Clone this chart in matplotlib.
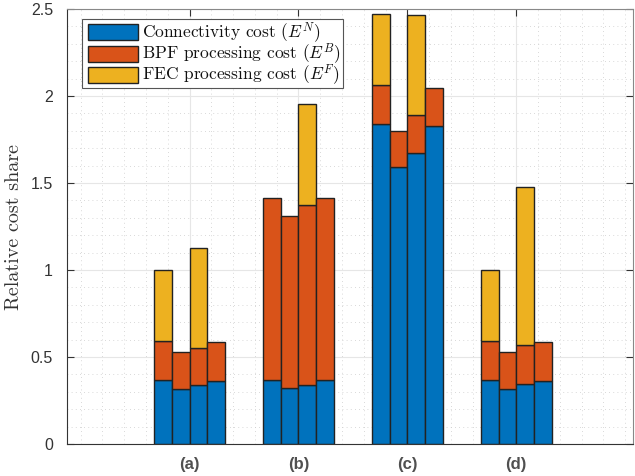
import numpy as np
import matplotlib
matplotlib.use("Agg")
import matplotlib.pyplot as plt
from matplotlib.ticker import MultipleLocator
from matplotlib.patches import Rectangle

plt.rcParams['mathtext.fontset'] = 'cm'

groups = ['(a)', '(b)', '(c)', '(d)']
# rows: groups, columns: 4 bars per group
connectivity = [
    [0.368, 0.316, 0.337, 0.364],
    [0.366, 0.324, 0.339, 0.366],
    [1.838, 1.590, 1.671, 1.826],
    [0.366, 0.316, 0.343, 0.362],
]
bpf = [
    [0.224, 0.211, 0.215, 0.220],
    [1.050, 0.988, 1.035, 1.050],
    [0.223, 0.209, 0.218, 0.220],
    [0.226, 0.211, 0.224, 0.222],
]
fec = [
    [0.408, 0.0, 0.573, 0.0],
    [0.0, 0.0, 0.580, 0.0],
    [0.408, 0.0, 0.577, 0.0],
    [0.408, 0.0, 0.910, 0.0],
]
legend_labels = [r'Connectivity cost ($E^N$)',
                 r'BPF processing cost ($E^B$)',
                 r'FEC processing cost ($E^F$)']
colors = ['#0072BD', '#D95319', '#EDB120']

W, H = 635, 476
AX_L, AX_R, AX_T, AX_B = 67, 633, 9, 444
fig = plt.figure(figsize=(W / 100, H / 100), dpi=100)
ax = fig.add_axes([AX_L / W, 1 - AX_B / H, (AX_R - AX_L) / W, (AX_B - AX_T) / H])


def axc(px, py):
    return (px - AX_L) / (AX_R - AX_L), (AX_B - py) / (AX_B - AX_T)


conn = np.array(connectivity)
bp = np.array(bpf)
fe = np.array(fec)
xg = np.arange(1, len(groups) + 1)
nb = conn.shape[1]
w = 0.1625
offsets = (np.arange(nb) - (nb - 1) / 2) * w

for j in range(nb):
    x = xg + offsets[j]
    ax.bar(x, conn[:, j], width=w, color=colors[0], edgecolor='#222222', linewidth=1.0, zorder=3)
    ax.bar(x, bp[:, j], width=w, bottom=conn[:, j], color=colors[1], edgecolor='#222222', linewidth=1.0, zorder=3)
    mask = fe[:, j] > 0
    ax.bar(x[mask], fe[mask, j], width=w, bottom=(conn + bp)[mask, j], color=colors[2], edgecolor='#222222', linewidth=1.0, zorder=3)

ax.set_xlim(1 - 1.125, 4 + 1.072)
ax.set_ylim(0, 2.5)
ax.set_xticks(xg)
ax.set_xticklabels(groups, fontweight='bold', fontsize=12, color='#505050', family='Liberation Sans')
ax.set_yticks([0, 0.5, 1, 1.5, 2, 2.5])
ax.set_yticklabels(['0', '0.5', '1', '1.5', '2', '2.5'], fontsize=11.5, color='#333333', family='Liberation Sans')
ax.xaxis.set_minor_locator(MultipleLocator(0.2))
ax.yaxis.set_minor_locator(MultipleLocator(0.1))
ax.tick_params(which='major', direction='in', length=5, width=0.8, color='#333333',
               top=True, right=True, pad=9)
ax.tick_params(axis='y', which='major', pad=10)
ax.tick_params(which='minor', length=0, top=True, right=True)
ax.grid(which='major', color='#e6e6e6', linewidth=0.8, zorder=0)
ax.grid(which='minor', color='#cccccc', linestyle=(0, (1, 4)), linewidth=0.6, zorder=0)
ax.set_axisbelow(True)
for s in ax.spines.values():
    s.set_color('#333333')
    s.set_linewidth(0.8)
    s.set_zorder(4)
ax.spines['top'].set_color('#888888')
ax.spines['right'].set_color('#888888')

ax.set_ylabel('Relative cost share', family='cmr10', fontsize=14.5, color='#333333', labelpad=6)

# legend (drawn by hand to match the tight MATLAB/LaTeX layout)
x0, y0 = axc(82, 88)
x1, y1 = axc(343, 19)
ax.add_patch(Rectangle((x0, y0), x1 - x0, y1 - y0, transform=ax.transAxes,
                       facecolor='white', edgecolor='#555555', linewidth=0.8, zorder=5, clip_on=False))
rows = [(24, 40), (45.5, 61.5), (67, 83)]
for (ta, tb), c in zip(rows, colors):
    hx0, hy0 = axc(88, tb)
    hx1, hy1 = axc(138, ta)
    ax.add_patch(Rectangle((hx0, hy0), hx1 - hx0, hy1 - hy0, transform=ax.transAxes,
                           facecolor=c, edgecolor='#222222', linewidth=1.0, zorder=6, clip_on=False))
tx, ty = axc(141.5, 80)
ax.text(tx, ty, '\n'.join(legend_labels), transform=ax.transAxes, family='cmr10',
        fontsize=12.5, color='#111111', ha='left', va='baseline', linespacing=0.79, zorder=7)

fig.savefig('out.png', dpi=100)
